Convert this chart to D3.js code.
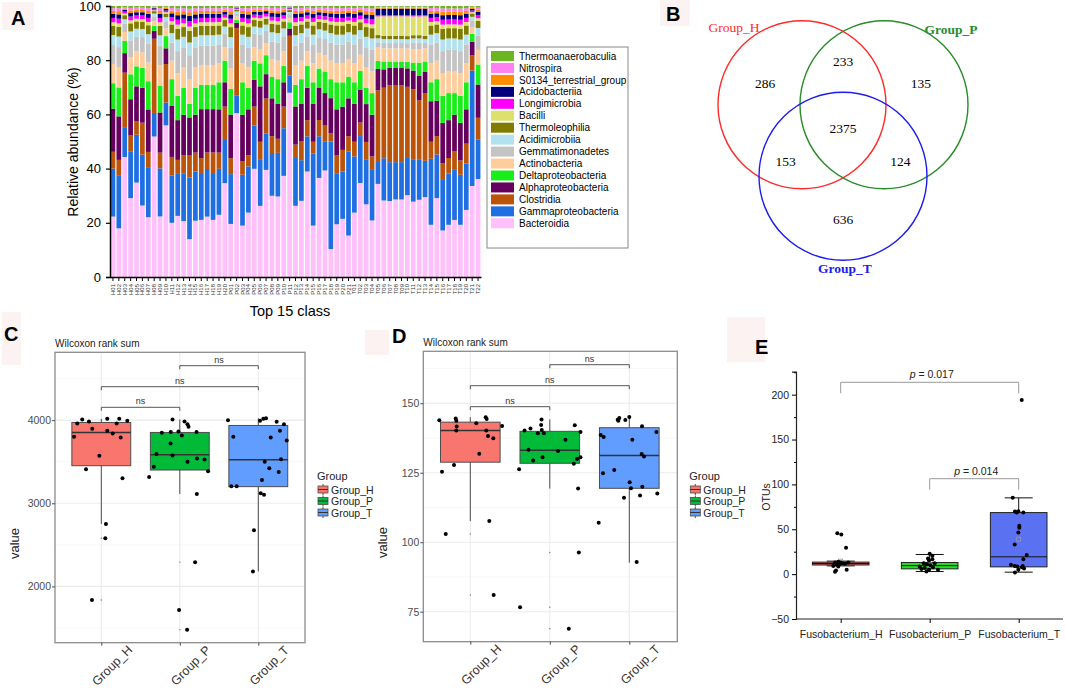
<!DOCTYPE html>
<html>
<head>
<meta charset="utf-8">
<script src="https://cdn.jsdelivr.net/npm/d3@7"></script>
<style>
  body { margin: 0; background: #fff; }
  svg { font-family: "Liberation Sans", Arial, sans-serif; }
</style>
</head>
<body>
<svg id="fig" width="1065" height="690"></svg>
<script>
// ---------- data: panel A (top 15 classes, relative abundance %) ----------
const sampleIds = ["H01","H02","H03","H04","H05","H06","H07","H08","H09","H10","H11","H12","H13","H14","H15","H16","H17","H18","H19","H20",
  "P01","P02","P03","P04","P05","P06","P07","P08","P09","P10","P11","P12","P13","P14","P15","P16","P17","P18","P19","P20","P21",
  "T01","T02","T03","T04","T05","T06","T07","T08","T09","T10","T11","T12","T13","T14","T15","T16","T17","T18","T19","T20","T21","T22"];

// stacked bottom -> top
const classNames = ["Bacteroidia","Gammaproteobacteria","Clostridia","Alphaproteobacteria","Deltaproteobacteria",
  "Actinobacteria","Gemmatimonadetes","Acidimicrobiia","Thermoleophilia","Bacilli","Longimicrobia",
  "Acidobacteriia","S0134_terrestrial_group","Nitrospira","Thermoanaerobaculia"];
const classColors = ["#ffc0fb","#1f6fe3","#bb5408","#65005e","#1aee1a",
  "#ffcc9c","#c4c4c4","#b2e2ef","#807c00","#dee06c","#ff00ff",
  "#00007a","#ff8c00","#ff80f0","#6cb521"];

const bacteroidia = [22.3,18,44.3,29.1,34.9,26.4,22.1,51.9,22.3,55.9,20,22.6,20.7,14,20.8,21.1,22.3,21.1,23,34.7,19.6,60.6,19,23.8,40,26.3,39.6,30,29.7,37.4,68,26.3,28.1,39,19,36.6,39.4,10.3,19.5,21.5,15.3,23.8,34.7,26.9,20.9,34.9,29.1,28.9,29.5,29.5,31,28.1,28.8,30.4,19.3,29.1,17.2,19.3,21.1,19.3,24.8,33.7,36.2];
const gammaproteobacteria = [17.7,19.4,11,17.1,17.7,18.8,18.2,8.7,17.7,8.4,17.4,15.8,17.7,22.8,18.2,17.3,17.6,17.3,17,16.3,18.4,6.4,18.8,17.1,16,17,13.4,15.8,16.1,17.6,6.3,18,15,13,26.6,15.4,10.6,39.7,18.9,17.5,31.1,20.8,17.3,16.7,18.7,8.2,16.1,14.8,14.2,14.2,14.4,15.6,14.9,13.8,24.4,16.1,19,18.9,18.5,18.5,17.1,42.7,14.5];
const clostridia = [6.2,5.9,20.1,6,4.9,11.8,5.9,27.4,5.8,14.2,6.9,4.9,6.6,8.1,7,5.5,6.1,7.6,6,12,5.9,25,4.9,4.1,7,6.7,13,6.2,5.2,8,14.7,4.6,6.9,6,4.4,6,6,3,6.5,8,5.6,5.4,5,6.4,5,26.9,26.8,29.3,29.3,29.3,26.6,26.3,22.3,25.8,6.3,6.8,5.8,5.8,6.8,5.3,7.4,5.6,8.1];
const alphaproteobacteria = [15.9,16.1,7.2,13.4,13,12.9,15.7,2.9,14.8,5.8,18.8,14.7,15,14.1,14,18.1,16,16,16,9,16.1,2,17.3,17,10,20.5,9,14,13,9,2.7,14.1,14,12,14,12,12,13,17.1,16,14,14,12,14,15.4,8,7,6.5,6.5,6.5,7,7,9,8,15,13,15,14,13.6,13.9,12.7,5,12.3];
const deltaproteobacteria = [9.4,10.7,4.6,9.2,7.4,7.4,10.4,1.8,9.9,4.5,9.9,9,10,5,10,9,9,9,10,8,9.5,1,12,8,7,8.5,7,8,9,6,2.3,8,9,8,8,7,8,7,10,9,8,8,7,6,8,3,3,2.5,2.5,2.5,2.5,3,5,4,7,8,10,10,8,10,10,3,7.4];
const actinobacteria = [7.1,7.5,3.2,6.3,5.5,5.7,6.9,1.8,7.4,2.8,6.8,8.3,7.5,9,7.5,7.3,7.3,7.3,7,5,7.6,1.3,7,7.5,5,5.3,4.5,6.5,6.8,5.5,1.5,7.3,6.8,5.5,7,5.8,6,6.8,7,7,6.5,7,6,7.5,8,5,5,5,5,5,5,5,5,5,7,6.8,8.3,8,8,8.3,7,2.5,5.4];
const gemmatimonadetes = [7,7.4,3,6.2,5.5,5.6,6.9,1.8,7.3,2.7,6.7,8.2,7.5,9,7.4,7.2,7.2,7.2,7,5,7.5,1.2,7,7.4,5,5.2,4.5,6.5,6.7,5.5,1.5,7.2,6.7,5.5,7,5.7,6,6.7,7,7,6.5,7,6,7.5,8,2,2,2,2,2,2,2.5,2.5,2,7,6.7,8.2,8,8,8.2,7,2.5,5.3];
const acidimicrobiia = [3.7,3.9,1.7,3.3,2.9,3,3.6,1,3.8,1.5,3.5,4.3,3.9,4.7,3.9,3.8,3.8,3.8,3.6,2.6,4,0.7,3.6,3.9,2.6,2.7,2.3,3.4,3.5,2.9,0.8,3.8,3.5,2.9,3.6,3,3.1,3.5,3.6,3.6,3.4,3.6,3.1,3.9,4.2,1.5,1.5,1.5,1.5,1.5,1.5,1.5,1.5,1.5,3.6,3.5,4.3,4.2,4.2,4.3,3.6,1.3,2.8];
const thermoleophilia = [3.4,3.6,1.5,3,2.7,2.7,3.3,0.9,3.5,1.3,3.2,4,3.6,4.3,3.6,3.5,3.5,3.5,3.4,2.4,3.7,0.6,3.4,3.6,2.4,2.5,2.2,3.1,3.2,2.6,0.7,3.5,3.2,2.6,3.4,2.8,2.9,3.2,3.4,3.4,3.1,3.4,2.9,3.6,3.8,1.2,1.2,1.2,1.2,1.2,1.2,1.2,1.2,1.2,3.4,3.2,4,3.8,3.8,4,3.4,1.2,2.6];
const bacilli = [1.3,1.3,0.6,1.1,1,1,1.2,0.3,1.3,0.5,1.2,1.5,1.4,1.6,1.4,1.3,1.3,1.3,1.3,0.9,1.4,0.2,1.3,1.4,0.9,1,0.8,1.2,1.2,1,0.3,1.3,1.2,1,1.3,1,1.1,1.2,1.3,1.3,1.2,1.3,1.1,1.4,1.4,7,7.5,7.5,7.5,7.5,7.5,7,7,7.5,1.3,1.2,1.5,1.4,1.4,1.5,1.3,0.5,1];
const longimicrobia = [1.6,1.7,0.7,1.4,1.2,1.3,1.5,0.4,1.6,0.6,1.5,1.8,1.7,2,1.7,1.6,1.6,1.6,1.5,1.1,1.7,0.3,1.5,1.7,1.1,1.2,1,1.4,1.5,1.2,0.3,1.6,1.5,1.2,1.5,1.3,1.3,1.5,1.5,1.5,1.4,1.5,1.3,1.7,1.8,0.4,0.4,0.4,0.4,0.4,0.4,0.4,0.4,0.4,1.5,1.5,1.8,1.8,1.8,1.8,1.5,0.6,1.2];
const acidobacteriia = [1.5,1.6,0.7,1.3,1.2,1.2,1.5,0.4,1.5,0.6,1.4,1.7,1.6,1.9,1.6,1.5,1.5,1.5,1.5,1.1,1.6,0.3,1.5,1.6,1.1,1.1,1,1.4,1.4,1.2,0.3,1.5,1.4,1.2,1.5,1.2,1.3,1.4,1.5,1.5,1.4,1.5,1.3,1.6,1.7,2.5,2.5,2.5,2.5,2.5,2.5,2.5,2.5,2.5,1.5,1.4,1.7,1.7,1.7,1.7,1.5,0.6,1.1];
const s0134 = [1.1,1.2,0.5,1,0.9,0.9,1.1,0.3,1.1,0.4,1,1.3,1.2,1.4,1.2,1.1,1.1,1.1,1.1,0.8,1.2,0.2,1.1,1.2,0.8,0.8,0.7,1,1,0.9,0.2,1.1,1,0.9,1.1,0.9,0.9,1,1.1,1.1,1,1.1,0.9,1.2,1.2,0.4,0.4,0.4,0.4,0.4,0.4,0.4,0.4,0.4,1.1,1,1.3,1.2,1.2,1.3,1.1,0.4,0.8];
const nitrospira = [1,1.1,0.5,0.9,0.8,0.8,1,0.3,1,0.4,1,1.2,1.1,1.3,1.1,1,1,1,1,0.7,1.1,0.2,1,1.1,0.7,0.8,0.7,0.9,1,0.8,0.2,1,1,0.8,1,0.8,0.9,1,1,1,0.9,1,0.8,1.1,1.2,0.3,0.3,0.3,0.3,0.3,0.3,0.3,0.3,0.3,1,1,1.2,1.2,1.2,1.2,1,0.4,0.8];
const thermoanaerobaculia = [0.8,0.8,0.4,0.7,0.6,0.6,0.8,0.2,0.8,0.3,0.7,0.9,0.8,1,0.8,0.8,0.8,0.8,0.8,0.6,0.8,0.2,0.8,0.8,0.6,0.6,0.5,0.7,0.7,0.6,0.2,0.8,0.7,0.6,0.8,0.6,0.7,0.7,0.8,0.8,0.7,0.8,0.6,0.8,0.9,0.3,0.3,0.3,0.3,0.3,0.3,0.3,0.3,0.3,0.8,0.7,0.9,0.9,0.9,0.9,0.8,0.3,0.6];

// ---------- data: panel B (Venn OTU counts) ----------
const vennSets = ["Group_H","Group_P","Group_T"];
const vennRegions = [["H"],["P"],["T"],["H","P"],["H","T"],["P","T"],["H","P","T"]];
const vennCounts = [286,135,636,233,153,124,2375];

// ---------- data: panels C / D (Wilcoxon boxplots) ----------
const groups = ["Group_H","Group_P","Group_T"];
const groupColors = ["#F8766D","#00BA38","#619CFF"];

const cValuesH = [4008,3960,3984,3800,3896,4016,3872,3840,3960,4016,3992,3792,3572,3408,3300,2752,2580,1836];
const cJitterH = [-0.243,-0.306,-0.157,-0.347,-0.115,0.076,0.076,0.145,0.196,0.229,0.331,0.247,-0.025,-0.195,0.27,0.059,0.051,-0.119];
const cValuesP = [4008,3984,3952,3920,3848,3856,3864,3856,3816,3720,3592,3576,3500,3540,3528,3440,3384,3316,3112,2292,1716,1480];
const cJitterP = [-0.093,0.06,0.098,0.111,-0.229,-0.115,-0.017,0.213,0.025,-0.118,-0.297,-0.093,0.098,0.22,0.315,-0.331,0.36,-0.391,0.217,0.195,-0.009,0.093];
const cValuesT = [4000,3992,4016,4024,3980,3952,3800,3792,3872,3756,3500,3530,3420,3376,3280,3204,3204,3120,3104,2676,2180];
const cJitterT = [-0.386,0.022,0.064,0.098,0.234,0.327,-0.318,0.158,0.276,0.362,0.082,0.289,0.14,0.26,0.047,-0.344,-0.275,0.031,0.073,-0.055,-0.068];
// [lower whisker, Q1, median, Q3, upper whisker]
const cStats = [[2752,3452,3852,3972,4016],[3112,3400,3584,3852,4008],[2180,3200,3524,3936,4024]];
const cTicks = [2000,3000,4000];

const dValuesH = [143.9,144.5,143.7,141.6,140.2,142.8,145,144.3,140.2,141.8,138.2,137.4,131.8,127.8,125.4,107.6,103,81];
const dJitterH = [-0.39,-0.184,-0.176,-0.171,-0.176,0.075,0.194,0.206,0.201,0.4,0.223,0.289,0.113,-0.205,-0.356,0.239,-0.309,0.294];
const dValuesP = [144.2,140.9,142.2,140.2,139.2,139.2,140.4,142.1,139.7,136.9,133.3,132.8,130.6,129.4,130.6,129.9,128.2,126.3,119.3,96.3,76.6,68.9];
const dJitterP = [-0.104,-0.243,-0.109,-0.318,-0.151,-0.075,-0.101,0.314,0.386,0.197,-0.268,0.104,-0.092,-0.21,0.386,0.343,0.302,-0.386,0.356,0.365,-0.374,0.239];
const dValuesT = [143.7,144.7,144.1,144,145.1,141.7,138.6,137.9,136.9,139.7,131.7,130.8,126,124.8,121.6,119.4,120,116.8,116,117.5,107,92.9];
const dJitterT = [-0.138,-0.126,-0.146,-0.05,0,0.16,-0.36,-0.322,0.038,0.34,0.156,0.185,-0.189,-0.331,0.005,0.021,0.164,0.135,-0.067,0.352,-0.385,0.093];
const dStats = [[107.6,128.8,140.2,143.2,145],[119.3,128.4,133.1,139.9,144.2],[92.6,119.4,131.2,141.2,145.2]];
const dTicks = [75,100,125,150];

// ---------- data: panel E (Fusobacterium OTUs) ----------
const fusoGroups = ["Fusobacterium_H","Fusobacterium_P","Fusobacterium_T"];
const fusoColors = ["#f25a5a","#22dd22","#5a72f2"];
const eValuesH = [45.7,44.1,29.3,12.9,13.7,12.2,11.5,10.4,11.5,9.2,4.8,4,2.6,8.5,12.9,12.9];
const eJitterH = [-0.038,0.007,0.06,-0.064,-0.027,0.022,0.048,-0.045,-0.008,-0.083,0.067,-0.053,-0.064,-0.027,0,0.085];
const eValuesP = [22.6,20.4,17.4,16.7,15.1,12.2,11.1,10,8.5,6.7,7.8,4.8,2.9,4.8,5.6,12.2];
const eJitterP = [0,0.03,-0.019,0.03,-0.008,-0.067,-0.03,0.008,-0.112,-0.056,0.037,0.093,-0.037,-0.008,-0.093,0.056];
const eValuesT = [194.1,85,69.7,68.6,68.6,70.2,53.8,51.6,46.3,33,21.2,16.7,9.2,8.5,7.8,6.2,4.8,1.8,10.4,9.2];
const eJitterT = [0.034,-0.067,-0.042,-0.022,0.052,-0.004,0.007,0.007,-0.004,-0.045,0.09,0.052,-0.045,-0.016,0.034,0.06,-0.004,-0.042,-0.087,0.045];
const eStats = [[9.2,10.2,11.8,13.4,14.5],[2.9,5.9,9.5,13,21.9],[2.2,8.1,19.3,68.6,85]];
const eMeans = [14.5,10.5,39];
const eTicks = [-50,0,50,100,150,200];

const svg = d3.select("#fig");

// faint panel-letter backgrounds + letters
function panelLetter(letter, x, y, bx, by, bw, bh) {
  svg.append("rect").attr("x", bx).attr("y", by).attr("width", bw).attr("height", bh).attr("fill", "#fdf2f2");
  svg.append("text").attr("x", x).attr("y", y).text(letter)
    .style("font-size", "20px").style("font-weight", "bold").attr("fill", "#000");
}
panelLetter("A", 11, 25, 2, 2, 32, 28);
panelLetter("B", 666, 21, 660, 0, 30, 26);
panelLetter("C", 4, 341, 2, 312, 19, 53);
panelLetter("D", 392, 343, 365, 330, 24, 25);
panelLetter("E", 755, 354, 727, 317, 38, 45);

// ================= Panel A: stacked bars =================
let rows = sampleIds.map(function(s, i) {
  let r = { sample: s };
  [bacteroidia, gammaproteobacteria, clostridia, alphaproteobacteria, deltaproteobacteria,
   actinobacteria, gemmatimonadetes, acidimicrobiia, thermoleophilia, bacilli, longimicrobia,
   acidobacteriia, s0134, nitrospira, thermoanaerobaculia].forEach(function(arr, j) { r[classNames[j]] = arr[i]; });
  return r;
});

let xA = d3.scaleBand().domain(sampleIds).range([110, 481]).paddingInner(0.2).paddingOuter(0.1);
let yA = d3.scaleLinear().domain([0, 1]).range([277, 6]);
let colorA = d3.scaleOrdinal().domain(classNames).range(classColors);

let stacked = d3.stack().keys(classNames).offset(d3.stackOffsetExpand)(rows);

let barplot = svg.append("g");
barplot.selectAll("g.layer").data(stacked).enter()
  .append("g").attr("class", "layer")
  .attr("fill", function(d) { return colorA(d.key); })
  .selectAll("rect").data(function(d) { return d; }).enter()
  .append("rect")
  .attr("x", function(d) { return xA(d.data.sample); })
  .attr("y", function(d) { return yA(d[1]); })
  .attr("width", xA.bandwidth())
  .attr("height", function(d) { return yA(d[0]) - yA(d[1]); });

// y axis
let yAxisA = svg.append("g").attr("transform", "translate(110,0)")
  .call(d3.axisLeft(yA).tickValues([0, 0.2, 0.4, 0.6, 0.8, 1]).tickSize(4).tickFormat(function(d) { return Math.round(d * 100); }));
yAxisA.select(".domain").attr("stroke", "#000").attr("stroke-width", 1.5);
yAxisA.selectAll("text").style("font-size", "13px").attr("fill", "#000").attr("dx", "-2");
yAxisA.selectAll("line").attr("stroke-width", 1.2);

// x axis
let xAxisA = svg.append("g").attr("transform", "translate(0,277)")
  .call(d3.axisBottom(xA).tickSize(4).tickSizeOuter(0));
xAxisA.select(".domain").attr("stroke", "#000").attr("stroke-width", 1.5);
xAxisA.selectAll("text")
  .style("font-size", "6px").attr("fill", "#333")
  .attr("transform", "rotate(-90)").attr("text-anchor", "end")
  .attr("x", -7).attr("y", 0).attr("dy", "0.35em");

svg.append("text").attr("x", 290).attr("y", 316).attr("text-anchor", "middle")
  .style("font-size", "14.5px").text("Top 15 class");
svg.append("text").attr("transform", "translate(78,142) rotate(-90)").attr("text-anchor", "middle")
  .style("font-size", "14px").text("Relative abundance (%)");

// legend
let legA = svg.append("g");
legA.append("rect").attr("x", 487).attr("y", 47).attr("width", 141).attr("height", 201)
  .attr("fill", "#fff").attr("stroke", "#888").attr("stroke-width", 1);
let legendNames = classNames.slice().reverse();
legA.selectAll("g.item").data(legendNames).enter().append("g").attr("class", "item")
  .attr("transform", function(d, i) { return `translate(491, ${51 + i * 11.95})`; })
  .each(function(d) {
    d3.select(this).append("rect").attr("width", 23).attr("height", 10).attr("fill", colorA(d));
    d3.select(this).append("text").attr("x", 28).attr("y", 8.6).style("font-size", "10px").text(d);
  });

// ================= Panel B: Venn =================
let vennCircles = [
  { key: "H", cx: 802, cy: 104.7, r: 84, color: "#ff2a2a" },
  { key: "P", cx: 884, cy: 104.7, r: 84, color: "#2a8c2a" },
  { key: "T", cx: 843, cy: 176.2, r: 84, color: "#1c1cf0" }
];
svg.selectAll("circle.venn").data(vennCircles).enter().append("circle").attr("class", "venn")
  .attr("cx", function(d) { return d.cx; }).attr("cy", function(d) { return d.cy; }).attr("r", function(d) { return d.r; })
  .attr("fill", "none").attr("stroke", function(d) { return d.color; }).attr("stroke-width", 1.4);

let cxMean = d3.mean(vennCircles, function(d) { return d.cx; });
let cyMean = d3.mean(vennCircles, function(d) { return d.cy; });
function regionPos(keys) {
  let cs = vennCircles.filter(function(c) { return keys.indexOf(c.key) >= 0; });
  let mx = d3.mean(cs, function(c) { return c.cx; }), my = d3.mean(cs, function(c) { return c.cy; });
  let k = keys.length === 1 ? 0.9 : (keys.length === 2 ? 1.8 : 0);
  return [mx + k * (mx - cxMean), my + k * (my - cyMean)];
}
svg.selectAll("text.vnum").data(vennCounts).enter().append("text").attr("class", "vnum")
  .attr("x", function(d, i) { return regionPos(vennRegions[i])[0]; })
  .attr("y", function(d, i) { return regionPos(vennRegions[i])[1]; })
  .attr("text-anchor", "middle").attr("dominant-baseline", "central")
  .style("font-family", "'Liberation Serif', 'Times New Roman', serif").style("font-size", "13.5px")
  .text(function(d) { return d; });

let vennLabelPos = [[734, 27, "normal"], [951, 29, "bold"], [845, 268, "bold"]];
svg.selectAll("text.vlab").data(vennSets).enter().append("text").attr("class", "vlab")
  .attr("x", function(d, i) { return vennLabelPos[i][0]; })
  .attr("y", function(d, i) { return vennLabelPos[i][1]; })
  .attr("text-anchor", "middle").attr("dominant-baseline", "central")
  .attr("fill", function(d, i) { return vennCircles[i].color; })
  .style("font-family", "'Liberation Serif', 'Times New Roman', serif").style("font-size", "13.5px")
  .style("font-weight", function(d, i) { return vennLabelPos[i][2]; })
  .text(function(d) { return d; });

// ================= Panels C / D: ggplot-like boxplots =================
function drawGgBox(opt) {
  let g = svg.append("g");
  let x = d3.scalePoint().domain(groups).range([opt.x0, opt.x1]);
  let step = x.step();
  let y = d3.scaleLinear().domain(opt.yDomain).range([opt.bottom, opt.top]);
  let color = d3.scaleOrdinal().domain(groups).range(groupColors);

  // grid
  g.selectAll("line.minor").data(opt.minorTicks).enter().append("line")
    .attr("x1", opt.left).attr("x2", opt.right)
    .attr("y1", function(d) { return y(d); }).attr("y2", function(d) { return y(d); })
    .attr("stroke", "#f2f2f2").attr("stroke-width", 0.6);
  g.selectAll("line.major").data(opt.ticks).enter().append("line")
    .attr("x1", opt.left).attr("x2", opt.right)
    .attr("y1", function(d) { return y(d); }).attr("y2", function(d) { return y(d); })
    .attr("stroke", "#ebebeb").attr("stroke-width", 1.1);
  g.selectAll("line.vgrid").data(groups).enter().append("line")
    .attr("x1", function(d) { return x(d); }).attr("x2", function(d) { return x(d); })
    .attr("y1", opt.top).attr("y2", opt.bottom)
    .attr("stroke", "#ebebeb").attr("stroke-width", 1.1);

  let half = step * 0.375;
  groups.forEach(function(grp, gi) {
    let s = opt.stats[gi];
    let cx = x(grp);
    // whiskers
    g.append("line").attr("x1", cx).attr("x2", cx).attr("y1", y(s[0])).attr("y2", y(s[1])).attr("stroke", "#4d4d4d").attr("stroke-width", 1);
    g.append("line").attr("x1", cx).attr("x2", cx).attr("y1", y(s[3])).attr("y2", y(s[4])).attr("stroke", "#4d4d4d").attr("stroke-width", 1);
    g.append("rect").attr("x", cx - half).attr("width", 2 * half)
      .attr("y", y(s[3])).attr("height", y(s[1]) - y(s[3]))
      .attr("fill", color(grp)).attr("stroke", "#4d4d4d").attr("stroke-width", 1);
    g.append("line").attr("x1", cx - half).attr("x2", cx + half).attr("y1", y(s[2])).attr("y2", y(s[2]))
      .attr("stroke", "#333").attr("stroke-width", 1.6);
    // tiny outlier dots from the boxplot layer
    let outl = opt.values[gi].filter(function(v) { return v < s[0] || v > s[4]; });
    g.selectAll(null).data(outl).enter().append("circle")
      .attr("cx", cx).attr("cy", function(d) { return y(d); }).attr("r", 0.7).attr("fill", "#777");
    // jittered points
    g.selectAll(null).data(opt.values[gi]).enter().append("circle")
      .attr("cx", function(d, i) { return cx + opt.jitter[gi][i] * step; })
      .attr("cy", function(d) { return y(d); })
      .attr("r", 2).attr("fill", "#000");
  });

  // border
  g.append("rect").attr("x", opt.left).attr("y", opt.top).attr("width", opt.right - opt.left).attr("height", opt.bottom - opt.top)
    .attr("fill", "none").attr("stroke", "#8c8c8c").attr("stroke-width", 1.3);

  // axes
  let ya = g.append("g").attr("transform", `translate(${opt.left},0)`)
    .call(d3.axisLeft(y).tickValues(opt.ticks).tickSize(3).tickPadding(1).tickFormat(d3.format("d")));
  ya.select(".domain").remove();
  ya.selectAll("line").attr("stroke", "#4d4d4d");
  ya.selectAll("text").style("font-size", "10.5px").attr("fill", "#4d4d4d");
  let xa = g.append("g").attr("transform", `translate(0,${opt.bottom})`)
    .call(d3.axisBottom(x).tickSize(3).tickFormat(""));
  xa.select(".domain").remove();
  xa.selectAll("line").attr("stroke", "#4d4d4d");
  g.selectAll("text.xlab").data(groups).enter().append("text")
    .attr("transform", function(d) { return `translate(${x(d) + 11},${opt.bottom + 23}) rotate(-45)`; })
    .attr("text-anchor", "middle").attr("dominant-baseline", "central")
    .style("font-size", "12.5px").attr("fill", "#333").text(function(d) { return d; });

  g.append("text").attr("transform", `translate(${opt.left - 36},${(opt.top + opt.bottom) / 2 + 46}) rotate(-90)`)
    .attr("text-anchor", "middle").style("font-size", "13px").attr("fill", "#222").text("value");
  g.append("text").attr("x", opt.left).attr("y", opt.top - 5)
    .style("font-size", "10px").attr("fill", "#222").text("Wilcoxon rank sum");

  // comparisons
  let comps = [[0, 1, opt.bracketY[0]], [0, 2, opt.bracketY[1]], [1, 2, opt.bracketY[2]]];
  comps.forEach(function(c) {
    let xa1 = x(groups[c[0]]), xa2 = x(groups[c[1]]);
    g.append("path").attr("d", `M${xa1},${c[2] + 3.5}V${c[2]}H${xa2}V${c[2] + 3.5}`)
      .attr("fill", "none").attr("stroke", "#555").attr("stroke-width", 1);
    g.append("text").attr("x", (xa1 + xa2) / 2).attr("y", c[2] - 3)
      .attr("text-anchor", "middle").style("font-size", "9px").attr("fill", "#333").text("ns");
  });

  // legend
  let lg = g.append("g").attr("transform", `translate(${opt.right + 12},0)`);
  lg.append("text").attr("x", 0).attr("y", 480).style("font-size", "11px").attr("fill", "#222").text("Group");
  groups.forEach(function(grp, gi) {
    let yy = 485.5 + gi * 11.5;
    lg.append("line").attr("x1", 6).attr("x2", 6).attr("y1", yy - 1.5).attr("y2", yy + 9.5).attr("stroke", "#4d4d4d");
    lg.append("rect").attr("x", 1).attr("y", yy + 0.5).attr("width", 10).attr("height", 7)
      .attr("fill", color(grp)).attr("stroke", "#4d4d4d").attr("stroke-width", 0.8);
    lg.append("line").attr("x1", 1).attr("x2", 11).attr("y1", yy + 4).attr("y2", yy + 4).attr("stroke", "#333");
    lg.append("text").attr("x", 14).attr("y", yy + 8).style("font-size", "10.5px").attr("fill", "#222").text(grp);
  });
}

drawGgBox({
  left: 55, right: 305, top: 352.3, bottom: 642.7, x0: 101.3, x1: 258.3,
  yDomain: [1323, 4816], ticks: cTicks, minorTicks: [1500, 2500, 3500, 4500],
  values: [cValuesH, cValuesP, cValuesT], jitter: [cJitterH, cJitterP, cJitterT], stats: cStats,
  bracketY: [407.3, 386.7, 365.7]
});
drawGgBox({
  left: 423.3, right: 677.3, top: 351.3, bottom: 641.7, x0: 470.3, x1: 629.3,
  yDomain: [64.2, 168.7], ticks: dTicks, minorTicks: [87.5, 112.5, 137.5, 162.5],
  values: [dValuesH, dValuesP, dValuesT], jitter: [dJitterH, dJitterP, dJitterT], stats: dStats,
  bracketY: [406.7, 385.7, 364.7]
});

// ================= Panel E: Origin-style boxplot =================
(function() {
  let g = svg.append("g");
  let left = 796, right = 1063, top = 371.7, bottom = 619;
  let x = d3.scalePoint().domain(fusoGroups).range([840.7, 1018.7]);
  let step = x.step();
  let y = d3.scaleLinear().domain([-50, 225.6]).range([bottom, top]);

  let half = 28.3, capHalf = 14;
  fusoGroups.forEach(function(grp, gi) {
    let s = eStats[gi], cx = x(grp);
    g.append("line").attr("x1", cx).attr("x2", cx).attr("y1", y(s[0])).attr("y2", y(s[4])).attr("stroke", "#111").attr("stroke-width", 1);
    g.append("line").attr("x1", cx - capHalf).attr("x2", cx + capHalf).attr("y1", y(s[0])).attr("y2", y(s[0])).attr("stroke", "#111").attr("stroke-width", 1);
    g.append("line").attr("x1", cx - capHalf).attr("x2", cx + capHalf).attr("y1", y(s[4])).attr("y2", y(s[4])).attr("stroke", "#111").attr("stroke-width", 1);
    g.append("rect").attr("x", cx - half).attr("width", 2 * half)
      .attr("y", y(s[3])).attr("height", y(s[1]) - y(s[3]))
      .attr("fill", fusoColors[gi]).attr("stroke", "#222").attr("stroke-width", 1);
    g.append("line").attr("x1", cx - half).attr("x2", cx + half).attr("y1", y(s[2])).attr("y2", y(s[2])).attr("stroke", "#111").attr("stroke-width", 1);
    g.append("rect").attr("x", cx - 2).attr("y", y(eMeans[gi]) - 2).attr("width", 4).attr("height", 4)
      .attr("fill", "none").attr("stroke", "#999").attr("stroke-width", 0.8);
  });
  let evals = [eValuesH, eValuesP, eValuesT], ejit = [eJitterH, eJitterP, eJitterT];
  fusoGroups.forEach(function(grp, gi) {
    g.selectAll(null).data(evals[gi]).enter().append("circle")
      .attr("cx", function(d, i) { return x(grp) + ejit[gi][i] * step; })
      .attr("cy", function(d) { return y(d); })
      .attr("r", 2).attr("fill", "#000");
  });

  // axes
  let ya = g.append("g").attr("transform", `translate(${left},0)`)
    .call(d3.axisLeft(y).tickValues(eTicks).tickSize(4).tickPadding(2));
  ya.select(".domain").attr("stroke", "#222").attr("stroke-width", 1.2);
  ya.selectAll("text").style("font-size", "10.5px").attr("fill", "#222").attr("dx", "-1");
  g.append("g").attr("transform", `translate(${left},0)`)
    .call(d3.axisLeft(y).tickValues([-25, 25, 75, 125, 175, 225]).tickSize(2).tickFormat(""))
    .select(".domain").remove();
  let xa = g.append("g").attr("transform", `translate(0,${bottom})`)
    .call(d3.axisBottom(x).tickSize(4).tickSizeOuter(0));
  xa.select(".domain").attr("d", `M${left},0H${right}`).attr("stroke", "#222").attr("stroke-width", 1.2);
  xa.selectAll("text").style("font-size", "10.5px").attr("fill", "#222").attr("dy", "1.1em");
  g.append("text").attr("transform", `translate(770,497) rotate(-90)`).attr("text-anchor", "middle")
    .style("font-size", "10.5px").attr("fill", "#222").text("OTUs");

  // p-value brackets
  let pComps = [[0, 2, 382.3, "0.017"], [1, 2, 478.7, "0.014"]];
  pComps.forEach(function(c) {
    let x1 = x(fusoGroups[c[0]]), x2 = x(fusoGroups[c[1]]);
    g.append("path").attr("d", `M${x1},${c[2] + 11}V${c[2]}H${x2}V${c[2] + 11}`)
      .attr("fill", "none").attr("stroke", "#999").attr("stroke-width", 1);
    let t = g.append("text").attr("x", (x1 + x2) / 2 + 2).attr("y", c[2] - 4).attr("text-anchor", "middle")
      .style("font-size", "10.5px").attr("fill", "#222");
    t.append("tspan").style("font-style", "italic").text("p");
    t.append("tspan").text(" = " + c[3]);
  });
})();
</script>
</body>
</html>
